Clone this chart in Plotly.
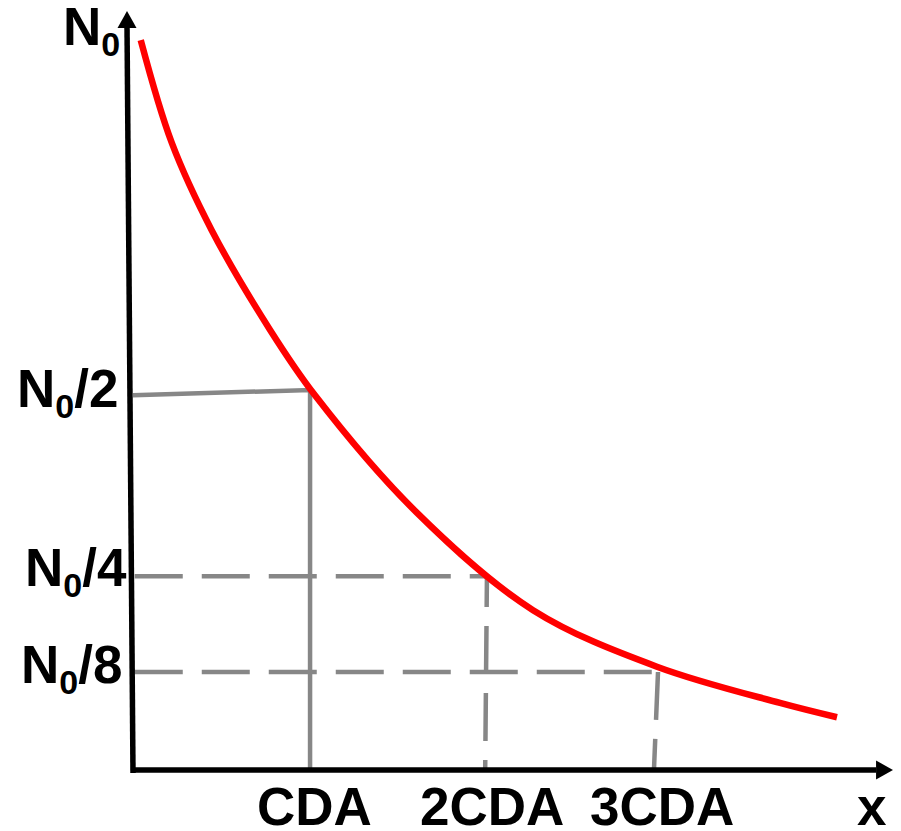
import plotly.graph_objects as go

# Curve: x in units of CDA, y in units of N0
curve_x = [0.044, 0.220, 0.447, 0.778, 1.034, 1.614, 2.273, 2.977, 3.676, 4.000]
curve_y = [0.968, 0.832, 0.716, 0.584, 0.497, 0.341, 0.212, 0.137, 0.089, 0.070]

# Guide levels
half_x = [0.0, 1.006]
half_y = [0.497, 0.504]
quarter_x = 2.011
quarter_y = 0.257
eighth_x = [2.983, 2.960]
eighth_y = 0.130

x_tick_vals = [1.034, 2.040, 3.006]
x_tick_text = ["CDA", "2CDA", "3CDA"]
y_tick_vals = [0.501, 0.264, 0.135, 0.981]
y_tick_text = ["N<sub><span style='font-size:34px'>0</span></sub>/2",
               "N<sub><span style='font-size:34px'>0</span></sub>/4",
               "N<sub><span style='font-size:34px'>0</span></sub>/8",
               "N<sub><span style='font-size:34px'>0</span></sub>"]
y_label_right = [-0.074, -0.023, -0.051, -0.063]

RED = "#ff0000"
GRAY = "#878787"
FONT = dict(family="Liberation Sans, Arial, Helvetica, sans-serif", size=53, color="black", weight="bold")

fig = go.Figure()

# Guide lines
fig.add_trace(go.Scatter(x=[half_x[0], half_x[1], half_x[1]], y=[half_y[0], half_y[1], 0],
                         mode="lines", line=dict(color=GRAY, width=4.5), hoverinfo="skip"))
fig.add_trace(go.Scatter(x=[0.01, quarter_x, quarter_x - 0.01], y=[quarter_y, quarter_y, 0],
                         mode="lines", line=dict(color=GRAY, width=4.5, dash="48px,19px"), hoverinfo="skip"))
fig.add_trace(go.Scatter(x=[0.01, eighth_x[0]], y=[eighth_y, eighth_y],
                         mode="lines", line=dict(color=GRAY, width=4.5, dash="48px,19px"), hoverinfo="skip"))
fig.add_trace(go.Scatter(x=[eighth_x[0], eighth_x[1]], y=[eighth_y, 0],
                         mode="lines", line=dict(color=GRAY, width=4.5, dash="48px,19px"), hoverinfo="skip"))

# Curve
fig.add_trace(go.Scatter(x=curve_x, y=curve_y, mode="lines",
                         line=dict(color=RED, width=6.5, shape="spline", smoothing=1.0), hoverinfo="skip"))

# Axes (drawn)
fig.add_shape(type="line", x0=0.0, y0=-0.004, x1=-0.034, y1=0.984,
              line=dict(color="black", width=5.5))
fig.add_shape(type="line", x0=-0.011, y0=0, x1=4.222, y1=0,
              line=dict(color="black", width=5.5))
fig.add_shape(type="path", xsizemode="pixel", ysizemode="pixel", xanchor=4.222, yanchor=0,
              path="M0,9.5 L17,0 L0,-9.5 Z", fillcolor="black", line=dict(width=0))
fig.add_shape(type="path", xsizemode="pixel", ysizemode="pixel", xanchor=-0.034, yanchor=0.984,
              path="M-9.5,0 L9.5,0 L0,17 Z", fillcolor="black", line=dict(width=0))

for xv, t in zip(x_tick_vals, x_tick_text):
    fig.add_annotation(x=xv, y=-0.049, text=t, showarrow=False, font=FONT,
                       xanchor="center", yanchor="middle")
fig.add_annotation(x=4.20, y=-0.048, text="x", showarrow=False, font=FONT,
                   xanchor="center", yanchor="middle")

for yv, t, xr in zip(y_tick_vals, y_tick_text, y_label_right):
    fig.add_annotation(x=xr, y=yv, text=t, showarrow=False, font=FONT,
                       xanchor="right", yanchor="middle")

# The page body adds an 8px margin; size the figure so it fills the 901x831 window.
fig.update_layout(
    width=893, height=823,
    margin=dict(l=0, r=0, t=0, b=0),
    paper_bgcolor="white", plot_bgcolor="white",
    showlegend=False,
    xaxis=dict(range=[(8 - 133) / 176, (901 - 133) / 176], visible=False, fixedrange=True),
    yaxis=dict(range=[(770 - 831) / 754, (770 - 8) / 754], visible=False, fixedrange=True),
)

fig.write_html("out.html")
